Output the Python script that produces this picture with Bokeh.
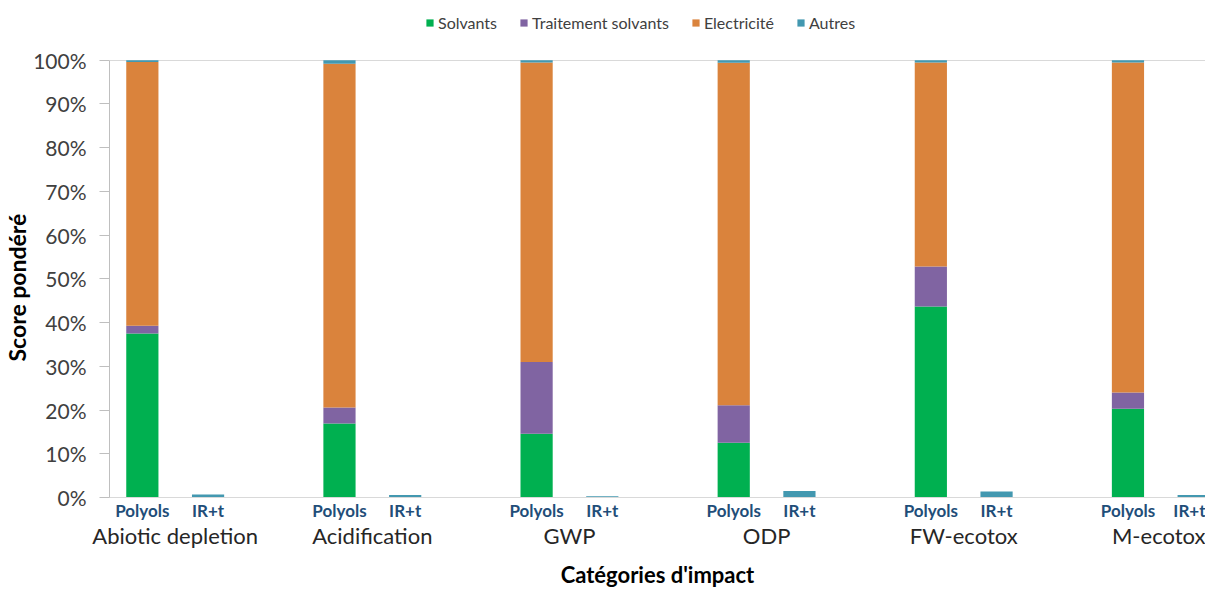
from bokeh.plotting import figure
from bokeh.models import (ColumnDataSource, Range1d, FixedTicker, LinearAxis,
                          PrintfTickFormatter, Legend, LegendItem, Title)
from bokeh.embed import file_html
from bokeh.resources import INLINE

# ---- data (percent of weighted score) ----
categories = ["Abiotic depletion", "Acidification", "GWP", "ODP", "FW-ecotox", "M-ecotox"]
systems = ["Polyols", "IR+t"]
series = ["Solvants", "Traitement solvants", "Electricité", "Autres"]

polyols_solvants = [37.5, 16.9, 14.6, 12.5, 43.7, 20.3]
polyols_traitement = [1.8, 3.7, 16.4, 8.6, 9.1, 3.7]
polyols_electricite = [60.3, 78.6, 68.5, 78.3, 46.7, 75.5]
polyols_autres = [0.4, 0.8, 0.5, 0.6, 0.5, 0.5]

irt_solvants = [0, 0, 0, 0, 0, 0]
irt_traitement = [0, 0, 0, 0, 0, 0]
irt_electricite = [0, 0, 0, 0, 0, 0]
irt_autres = [0.7, 0.55, 0.3, 1.5, 1.35, 0.6]

y_ticks = [0, 10, 20, 30, 40, 50, 60, 70, 80, 90, 100]

colors = ["#00B050", "#8064A2", "#DA833C", "#4398B0"]
FONT = "Lato"

# positions: 3 slots per category (Polyols, IR+t, empty), in half-slot units
xs, sol, tra, ele, aut = [], [], [], [], []
for i in range(len(categories)):
    xs += [6 * i + 1, 6 * i + 3]
    sol += [polyols_solvants[i], irt_solvants[i]]
    tra += [polyols_traitement[i], irt_traitement[i]]
    ele += [polyols_electricite[i], irt_electricite[i]]
    aut += [polyols_autres[i], irt_autres[i]]

source = ColumnDataSource(dict(x=xs, Solvants=sol, Traitement=tra, Electricite=ele, Autres=aut))

# frame extends above 100% so the legend can sit at the top of the chart
p = figure(width=1205, height=590, x_range=Range1d(0, 33.36), y_range=Range1d(0, 111.6),
           output_backend="svg", toolbar_location=None,
           min_border_left=109, min_border_right=0, min_border_top=9, min_border_bottom=80)
p.outline_line_color = None

renderers = p.vbar_stack(["Solvants", "Traitement", "Electricite", "Autres"], x="x", width=0.98,
                         color=colors, line_color=None, source=source)

# y axis
p.yaxis.bounds = (0, 100)
p.yaxis.ticker = FixedTicker(ticks=y_ticks)
p.yaxis.formatter = PrintfTickFormatter(format="%d%%")
p.yaxis.major_label_text_font = FONT
p.yaxis.major_label_text_font_size = "21px"
p.yaxis.major_label_text_color = "#404040"
p.yaxis.major_tick_out = 10
p.yaxis.major_tick_in = 0
p.yaxis.minor_tick_line_color = None
p.yaxis.major_tick_line_color = "#BFBFBF"
p.yaxis.axis_line_color = "#BFBFBF"
p.yaxis.major_label_standoff = 13

ytitle = Title(text="Score pondéré", align="left", offset=136, standoff=0,
               text_font=FONT, text_font_style="bold", text_font_size="23px",
               text_color="#000000")
p.add_layout(ytitle, "left")

p.xgrid.visible = False
p.ygrid.ticker = FixedTicker(ticks=[100])
p.ygrid.grid_line_color = "#D9D9D9"

# x axis 1: system labels
sub_ticks, sub_labels, grp_ticks, grp_labels = [], {}, [], {}
for i, c in enumerate(categories):
    for j, s in enumerate(systems):
        t = 6 * i + 1 + 2 * j
        sub_ticks.append(t)
        sub_labels[t] = s
    grp_ticks.append(6 * i + 2)
    grp_labels[6 * i + 2] = c

ax1 = p.xaxis[0]
ax1.ticker = FixedTicker(ticks=sub_ticks)
ax1.major_label_overrides = sub_labels
ax1.major_tick_line_color = None
ax1.minor_tick_line_color = None
ax1.axis_line_color = "#D9D9D9"
ax1.major_label_text_font = FONT
ax1.major_label_text_font_style = "bold"
ax1.major_label_text_font_size = "17px"
ax1.major_label_text_color = "#1F4E79"
ax1.major_label_standoff = -4

ax2 = LinearAxis(ticker=FixedTicker(ticks=grp_ticks), major_label_overrides=grp_labels)
ax2.major_tick_line_color = None
ax2.minor_tick_line_color = None
ax2.axis_line_color = None
ax2.major_label_text_font = FONT
ax2.major_label_text_font_size = "22px"
ax2.major_label_text_color = "#262626"
ax2.major_label_standoff = -8
ax2.axis_label = "Catégories d'impact"
ax2.axis_label_text_font = FONT
ax2.axis_label_text_font_style = "bold"
ax2.axis_label_text_font_size = "22px"
ax2.axis_label_text_color = "#000000"
ax2.axis_label_standoff = 9
p.add_layout(ax2, "below")

legend = Legend(items=[LegendItem(label=s, renderers=[r]) for s, r in zip(series, renderers)],
                orientation="horizontal", location=(316, 465))
legend.label_text_font = FONT
legend.label_text_font_size = "16px"
legend.label_text_color = "#404040"
legend.glyph_width = 9
legend.glyph_height = 9
legend.label_standoff = 4
legend.spacing = 22
legend.padding = 2
legend.margin = 0
legend.border_line_color = None
legend.background_fill_alpha = 0
p.add_layout(legend, "center")

open("out.html", "w").write(file_html(p, INLINE))
